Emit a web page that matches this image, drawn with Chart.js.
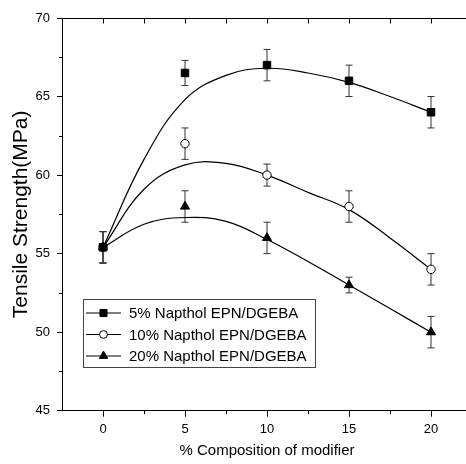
<!DOCTYPE html>
<html lang="en">
<head>
  <meta charset="UTF-8">
  <title>Tensile Strength</title>
  <script src="https://cdn.jsdelivr.net/npm/chart.js"></script>
  <style>
    * { margin: 0; padding: 0; box-sizing: border-box; }
    html, body { width: 466px; height: 464px; overflow: hidden; background: #fff; }
    #wrap { position: relative; width: 490px; height: 464px; }
  </style>
</head>
<body>
  <div id="wrap"><canvas id="tensileChart"></canvas></div>

  <script>
    // measured points (% modifier vs tensile strength, MPa)
    const composition = [0, 5, 10, 15, 20];
    const napthol5 = [55.4, 66.5, 67.0, 66.0, 64.0];
    const napthol10 = [55.4, 62.0, 60.0, 58.0, 54.0];
    const napthol20 = [55.4, 58.0, 56.0, 53.0, 50.0];
    const err5 = [1.0, 0.8, 1.0, 1.0, 1.0];
    const err10 = [1.0, 1.0, 0.7, 1.0, 1.0];
    const err20 = [1.0, 1.0, 1.0, 0.5, 1.0];

    // fitted curves
    const fitX = [0, 2.5, 5, 7.5, 10, 12.5, 15, 17.5, 20];
    const fit5 = [55.4, 61.0, 64.8, 66.35, 66.8, 66.5, 65.9, 65.0, 64.0];
    const fit10 = [55.4, 59.1, 60.65, 60.75, 60.0, 58.9, 57.8, 56.0, 54.0];
    const fit20 = [55.4, 56.87, 57.3, 57.05, 55.9, 54.5, 53.0, 51.5, 50.0];

    const xTicks = [0, 5, 10, 15, 20];
    const xMinor = [2.5, 7.5, 12.5, 17.5, 22.5];
    const yTicks = [45, 50, 55, 60, 65, 70];
    const yMinor = [47.5, 52.5, 57.5, 62.5, 67.5];

    const FONT = 'Liberation Sans, Arial, sans-serif';

    const toXY = (xs, ys) => xs.map((x, i) => ({ x: x, y: ys[i] }));

    function pointSet(label, values, errors, style, radius, fill) {
      return {
        label: label,
        data: toXY(composition, values),
        errors: errors,
        showLine: false,
        pointStyle: style,
        pointRadius: radius,
        pointHoverRadius: radius,
        pointBackgroundColor: fill,
        pointBorderColor: '#000',
        pointBorderWidth: 1
      };
    }

    function fitSet(values) {
      return {
        label: '',
        data: toXY(fitX, values),
        showLine: true,
        pointRadius: 0,
        borderColor: '#000',
        borderWidth: 1.2,
        tension: 0.4,
        isFit: true
      };
    }

    const extras = {
      id: 'extras',
      beforeDatasetsDraw(chart) {
        const ctx = chart.ctx, xs = chart.scales.x, ys = chart.scales.y;
        ctx.save();
        ctx.strokeStyle = '#333';
        ctx.lineWidth = 1;
        chart.data.datasets.forEach(ds => {
          if (!ds.errors) return;
          ds.data.forEach((p, i) => {
            const px = xs.getPixelForValue(p.x);
            const top = ys.getPixelForValue(p.y + ds.errors[i]);
            const bot = ys.getPixelForValue(p.y - ds.errors[i]);
            ctx.beginPath();
            ctx.moveTo(px, top); ctx.lineTo(px, bot);
            ctx.moveTo(px - 3.5, top); ctx.lineTo(px + 3.5, top);
            ctx.moveTo(px - 3.5, bot); ctx.lineTo(px + 3.5, bot);
            ctx.stroke();
          });
        });
        ctx.restore();
      },
      afterDraw(chart) {
        const ctx = chart.ctx, xs = chart.scales.x, ys = chart.scales.y;
        const area = chart.chartArea;
        ctx.save();
        ctx.strokeStyle = '#000';
        ctx.lineWidth = 1;

        // top frame line with inward ticks
        ctx.beginPath();
        ctx.moveTo(area.left, area.top + 0.5);
        ctx.lineTo(area.right, area.top + 0.5);
        xTicks.concat(xMinor).forEach(v => {
          const px = Math.round(xs.getPixelForValue(v)) + 0.5;
          ctx.moveTo(px, area.top);
          ctx.lineTo(px, area.top + 5.5);
        });
        // minor ticks bottom / left
        xMinor.forEach(v => {
          const px = Math.round(xs.getPixelForValue(v)) + 0.5;
          ctx.moveTo(px, area.bottom);
          ctx.lineTo(px, area.bottom + 3.5);
        });
        yMinor.forEach(v => {
          const py = Math.round(ys.getPixelForValue(v)) + 0.5;
          ctx.moveTo(area.left, py);
          ctx.lineTo(area.left - 3, py);
        });
        ctx.stroke();

        // legend box
        const box = { left: 83, top: 299, right: 315, bottom: 367 };
        ctx.strokeStyle = '#444';
        ctx.strokeRect(box.left + 0.5, box.top + 0.5, box.right - box.left, box.bottom - box.top);
        const rows = [313, 334.5, 356];
        ctx.font = '15px ' + FONT;
        ctx.textBaseline = 'middle';
        ctx.textAlign = 'left';
        chart.data.datasets.filter(ds => !ds.isFit).forEach((ds, i) => {
          const y = rows[i];
          ctx.strokeStyle = '#000';
          ctx.lineWidth = 1;
          ctx.beginPath();
          ctx.moveTo(86, y); ctx.lineTo(121, y);
          ctx.stroke();
          ctx.fillStyle = ds.pointBackgroundColor;
          Chart.helpers.drawPoint(ctx, {
            pointStyle: ds.pointStyle, radius: ds.pointRadius - 0.3, rotation: 0, borderWidth: 1
          }, 103.5, y);
          ctx.fillStyle = '#000';
          ctx.fillText(ds.label, 129, y + 1);
        });
        ctx.restore();
      }
    };

    const ctx = document.getElementById('tensileChart').getContext('2d');
    new Chart(ctx, {
      type: 'scatter',
      data: {
        datasets: [
          pointSet('5% Napthol EPN/DGEBA', napthol5, err5, 'rect', 5.3, '#000'),
          pointSet('10% Napthol EPN/DGEBA', napthol10, err10, 'circle', 4.2, '#fff'),
          pointSet('20% Napthol EPN/DGEBA', napthol20, err20, 'triangle', 5.2, '#000'),
          fitSet(fit5),
          fitSet(fit10),
          fitSet(fit20)
        ]
      },
      options: {
        responsive: true,
        maintainAspectRatio: false,
        animation: false,
        layout: { padding: { top: 18, right: 18, left: 0, bottom: 0 } },
        plugins: { legend: { display: false }, tooltip: { enabled: false } },
        scales: {
          x: {
            type: 'linear',
            min: -2.5,
            max: 22.5,
            afterBuildTicks: s => { s.ticks = xTicks.map(v => ({ value: v })); },
            afterFit: s => { s.height = 53.3; },
            grid: { drawOnChartArea: false, tickLength: 6, tickColor: '#000' },
            border: { color: '#000', width: 1 },
            ticks: { color: '#000', font: { family: FONT, size: 13 }, padding: 5, maxRotation: 0 },
            title: {
              display: true,
              text: '% Composition of modifier',
              color: '#000',
              font: { family: FONT, size: 15 },
              padding: { top: 0, bottom: 4 }
            }
          },
          y: {
            min: 45,
            max: 70,
            afterBuildTicks: s => { s.ticks = yTicks.map(v => ({ value: v })); },
            afterFit: s => { s.width = 62; },
            grid: { drawOnChartArea: false, tickLength: 5, tickColor: '#000' },
            border: { color: '#000', width: 1 },
            ticks: { color: '#000', font: { family: FONT, size: 13 }, padding: 7 },
            title: {
              display: true,
              text: 'Tensile Strength(MPa)',
              color: '#000',
              font: { family: FONT, size: 21 },
              padding: { top: 9, bottom: 0 }
            }
          }
        }
      },
      plugins: [extras]
    });
  </script>
</body>
</html>
